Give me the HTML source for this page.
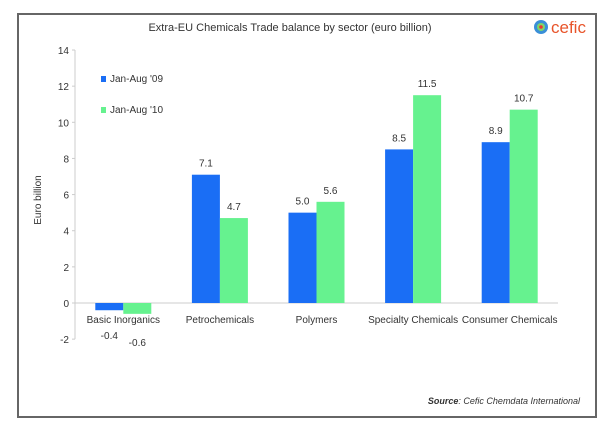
<!DOCTYPE html>
<html><head><meta charset="utf-8"><style>
body{margin:0;background:#fff;}
svg text{font-family:"Liberation Sans",sans-serif;fill:#333;}
</style></head><body>
<svg width="600" height="427" viewBox="0 0 600 427" xmlns="http://www.w3.org/2000/svg">
<rect x="18" y="14" width="578" height="403" fill="#fff" stroke="#666" stroke-width="2"/>
<text x="290" y="31" font-size="11" text-anchor="middle">Extra-EU Chemicals Trade balance by sector (euro billion)</text>
<g>
<circle cx="541" cy="27" r="7" fill="#3a8fd8"/>
<circle cx="541" cy="27" r="4" fill="#7fd66a"/>
<circle cx="541" cy="27" r="1.8" fill="#e33"/>
<text x="551" y="33" font-size="17" style="fill:#e8542a">cefic</text>
</g>
<text transform="translate(41,200) rotate(-90)" font-size="10" text-anchor="middle">Euro billion</text>
<g id="axis"></g>
<g id="bars"></g>
<g>
<rect x="101" y="76" width="5" height="6" fill="#1a6ef5"/>
<text x="110" y="82" font-size="10">Jan-Aug '09</text>
<rect x="101" y="107" width="5" height="6" fill="#66f28f"/>
<text x="110" y="113" font-size="10">Jan-Aug '10</text>
</g>
<text x="580" y="404" font-size="9" text-anchor="end" font-style="italic"><tspan font-weight="bold">Source</tspan>: Cefic Chemdata International</text>
<script>
const categories=["Basic Inorganics","Petrochemicals","Polymers","Specialty Chemicals","Consumer Chemicals"];
const series09=[-0.4,7.1,5.0,8.5,8.9];
const series10=[-0.6,4.7,5.6,11.5,10.7];
const yTicks=[-2,0,2,4,6,8,10,12,14];
const NS="http://www.w3.org/2000/svg";
const x0=75,x1=558,bw=(x1-x0)/categories.length;
function y(v){return 303-v*18.07;}
function mk(t,a,p){const e=document.createElementNS(NS,t);for(const k in a)e.setAttribute(k,a[k]);p.appendChild(e);return e;}
const ax=document.getElementById('axis'),bg=document.getElementById('bars');
const al=mk('line',{x1:x0,x2:x0,y1:y(14),y2:y(-2),stroke:'#ccc'},ax);


yTicks.forEach(t=>{
 const tk=mk('line',{x1:x0-3,x2:x0,y1:y(t),y2:y(t),stroke:'#ccc'},ax);
 
 
 const l=mk('text',{x:x0-6,y:y(t)+4,'font-size':10,'text-anchor':'end'},ax);l.textContent=t;
 
 
});
const zl=mk('line',{x1:x0,x2:x1,y1:y(0),y2:y(0),stroke:'#ccc'},ax);


const W=28;
categories.forEach((c,i)=>{
 const cx=x0+bw*(i+0.5);
 [[series09,'#1a6ef5',cx-W],[series10,'#66f28f',cx]].forEach(([s,col,bx],j)=>{
  const v=s[i];
  const r=mk('rect',{x:bx,y:Math.min(y(v),y(0)),width:W,height:Math.abs(y(v)-y(0)),fill:col},bg);
  
  
  const t=mk('text',{x:bx+W/2,'font-size':10,'text-anchor':'middle'},bg);
  t.setAttribute('y',v>=0?y(v)-8:y(0)+36+j*7);
  t.textContent=v.toFixed(1);
  
  
 });
 const cl=mk('text',{x:cx,y:y(0)+20,'font-size':10,'text-anchor':'middle'},bg);
 cl.textContent=c;
 
 
});
</script>
</svg>
</body></html>
